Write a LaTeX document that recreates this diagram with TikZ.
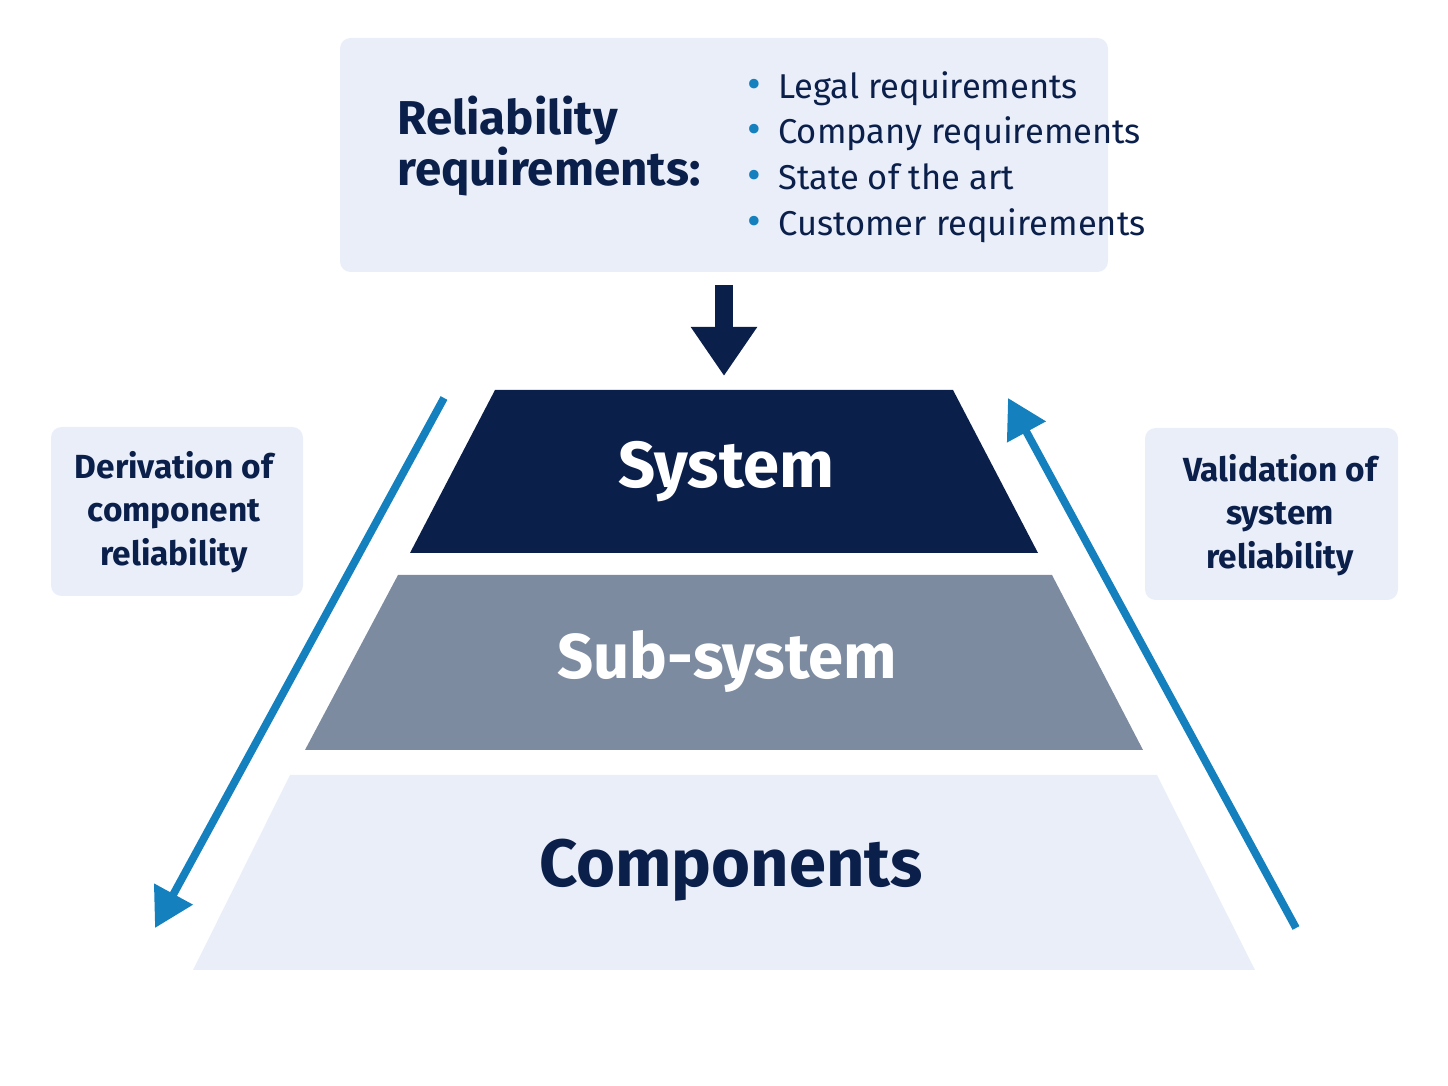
\documentclass[tikz,border=0pt]{standalone}
\usepackage{fontspec}
\setmainfont{Fira Sans}
\usetikzlibrary{arrows.meta}
\definecolor{navy}{HTML}{0B1F4B}
\definecolor{slate}{HTML}{7D8BA1}
\definecolor{pale}{HTML}{E9EEF8}
\definecolor{arrowblue}{HTML}{1480BE}
\tikzset{
  panel/.style={fill=pale, rounded corners=3pt},
  uparrow/.style={draw=arrowblue, line width=2.2pt, -{Triangle[length=11pt,width=12pt]}},
  sidetext/.style={align=center, text=navy, font=\fontsize{9.5}{12.3}\selectfont\bfseries},
}
\newcommand{\blt}{{\color{arrowblue}\large\textbullet}\enspace}
\begin{document}
\begin{tikzpicture}[x=0.01cm,y=-0.01cm]
\useasboundingbox (0,0) rectangle (1448,1086);
% requirements box
\fill [panel] (340,38) rectangle (1108,272);
\node (req) [anchor=west, align=left, text=navy, font=\fontsize{13.5}{14.5}\selectfont\bfseries] at (385,146) {Reliability\\requirements:};
\node (list) [anchor=west, align=left, text=navy, font=\fontsize{9.8}{13}\selectfont] at (735,157) {%
  \blt Legal requirements\\
  \blt Company requirements\\
  \blt State of the art\\
  \blt Customer requirements};
\coordinate (reqout) at (724,285);
\coordinate (sysin) at (724,376);
\draw [navy, line width=5pt, -{Triangle[length=14pt,width=18pt]}] (reqout) -- (sysin);
% pyramid
\fill [navy] (495,390) -- (953,390) -- (1038,553) -- (410,553) -- cycle;
\fill [slate] (398,575) -- (1052,575) -- (1143,750) -- (305,750) -- cycle;
\fill [pale] (290,775) -- (1157,775) -- (1255,970) -- (193,970) -- cycle;
\node (sys) [text=white, font=\fontsize{18.5}{22}\selectfont\bfseries] at (726,472) {System};
\node (sub) [text=white, font=\fontsize{18}{22}\selectfont\bfseries] at (727,662) {Sub-system};
\node (comp) [text=navy, font=\fontsize{19}{23}\selectfont\bfseries] at (731,870) {Components};
% side boxes
\fill [panel] (51,427) rectangle (303,596);
\node (deriv) [sidetext] at (174,512) {Derivation of\\component\\reliability};
\fill [panel] (1145,428) rectangle (1398,600);
\node (valid) [sidetext] at (1280,515) {Validation of\\system\\reliability};
\coordinate (dtop) at (444,398);
\coordinate (dbot) at (155,928);
\coordinate (vbot) at (1296,928);
\coordinate (vtop) at (1008,398);
\draw [uparrow] (dtop) -- (dbot);
\draw [uparrow] (vbot) -- (vtop);
\end{tikzpicture}
\end{document}
